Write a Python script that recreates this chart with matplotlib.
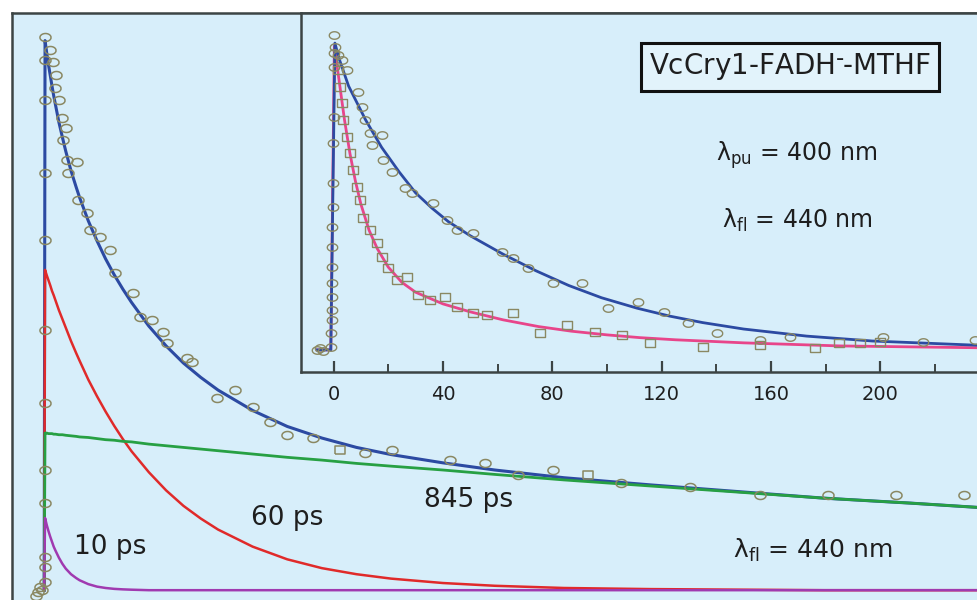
import numpy as np
import matplotlib
matplotlib.use("Agg")
import matplotlib.pyplot as plt

# ---------------- data ----------------
# main panel: time (ps) and normalised fluorescence
main_t = [-0.5, 0, 1, 2, 3, 4, 5, 6, 8, 10, 12, 15, 18, 20, 25, 30, 35, 40, 45, 50,
          60, 70, 80, 90, 100, 120, 140, 160, 180, 200, 230, 260, 300, 350, 400,
          450, 500, 545]
main_fit_total = [0.0, 0.997, 0.974, 0.953, 0.934, 0.915, 0.897, 0.881, 0.849, 0.822,
                  0.796, 0.761, 0.731, 0.712, 0.670, 0.634, 0.601, 0.572, 0.546, 0.522,
                  0.479, 0.443, 0.412, 0.386, 0.363, 0.326, 0.297, 0.276, 0.259, 0.246,
                  0.231, 0.218, 0.204, 0.191, 0.179, 0.167, 0.158, 0.149]
main_fit_60ps = [0.0, 0.581, 0.571, 0.562, 0.553, 0.543, 0.535, 0.526, 0.508, 0.492,
                 0.476, 0.452, 0.430, 0.416, 0.382, 0.352, 0.324, 0.298, 0.274, 0.252,
                 0.214, 0.181, 0.153, 0.130, 0.110, 0.079, 0.056, 0.040, 0.029, 0.021,
                 0.013, 0.008, 0.004, 0.002, 0.001, 0.0, 0.0, 0.0]
main_fit_845ps = [0.0, 0.285, 0.285, 0.284, 0.284, 0.284, 0.283, 0.283, 0.282, 0.282,
                  0.281, 0.280, 0.279, 0.278, 0.277, 0.275, 0.273, 0.272, 0.270, 0.269,
                  0.265, 0.262, 0.259, 0.256, 0.253, 0.247, 0.241, 0.236, 0.230, 0.225,
                  0.218, 0.210, 0.200, 0.189, 0.178, 0.167, 0.158, 0.149]
main_fit_10ps = [0.0, 0.131, 0.118, 0.107, 0.097, 0.088, 0.079, 0.072, 0.059, 0.048,
                 0.039, 0.029, 0.022, 0.018, 0.011, 0.0065, 0.004, 0.0024, 0.0015, 0.0009,
                 0.0, 0.0, 0.0, 0.0, 0.0, 0.0, 0.0, 0.0, 0.0, 0.0,
                 0.0, 0.0, 0.0, 0.0, 0.0, 0.0, 0.0, 0.0]

main_circ_t = [-5, -4, -3, -2, 0, 0, 0, 0, 0, 0, 0, 0, 0, 0, 0, 0,
               2.9, 4.6, 6.4, 5.8, 8.1, 9.8, 12.1, 10.4, 12.7, 18.5, 13.3, 19.1, 24.3,
               26.0, 31.8, 37.6, 40.5, 50.9, 54.9, 61.8, 68.2, 70.5, 82.1, 85.0, 99.4,
               109.8, 120.2, 130.1, 139.9, 154.9, 185.0, 200.6, 234.1, 254.3, 273.4,
               293.6, 333.0, 372.8, 413.3, 452.6, 491.9, 531.2]
main_circ_v = [-0.011, -0.004, 0.005, 0.0, 1.004, 0.962, 0.889, 0.757, 0.635, 0.472,
               0.339, 0.218, 0.158, 0.060, 0.042, 0.015,
               0.980, 0.958, 0.935, 0.911, 0.889, 0.857, 0.838, 0.817, 0.780, 0.777,
               0.757, 0.708, 0.684, 0.653, 0.641, 0.617, 0.575, 0.539, 0.495, 0.490,
               0.468, 0.448, 0.421, 0.414, 0.348, 0.363, 0.332, 0.305, 0.281, 0.276,
               0.249, 0.254, 0.236, 0.230, 0.209, 0.218, 0.194, 0.187, 0.172, 0.172,
               0.172, 0.172]
main_sq_t = [170.5, 313.9]
main_sq_v = [0.254, 0.209]

# inset panel
ins_blue_t = [-6, -1, 0.5, 2, 5.5, 11.7, 17.6, 24, 30, 36, 42, 50, 62, 74, 86, 98,
              111, 123, 135, 150, 173, 197, 236]
ins_blue_v = [0.0, 0.0, 1.0, 0.95, 0.86, 0.75, 0.66, 0.58, 0.512, 0.462, 0.418, 0.372,
              0.312, 0.258, 0.210, 0.170, 0.136, 0.110, 0.089, 0.068, 0.045, 0.029, 0.015]
ins_pink_t = [-6, -1, 0.3, 2, 4, 6, 8, 10, 13, 16, 20, 25, 30, 40, 50, 62, 75, 87,
              100, 112, 125, 150, 185, 236]
ins_pink_v = [0.0, 0.0, 0.99, 0.88, 0.75, 0.64, 0.55, 0.475, 0.39, 0.33, 0.27, 0.22,
              0.188, 0.150, 0.124, 0.098, 0.076, 0.061, 0.049, 0.040, 0.033, 0.023,
              0.013, 0.007]

ins_circ_t = [-6.0, -4.9, -3.8,
              -0.8, -0.8, -0.7, -0.7, -0.6, -0.6, -0.5, -0.5, -0.4, -0.3, -0.2, -0.1,
              0.0, 0.1, 0.2, 0.3,
              0.5, 1.6, 3.1, 4.9, 9.0, 10.4, 11.5, 13.3, 17.7, 14.1, 18.1, 21.4, 26.1,
              28.7, 36.4, 41.5, 45.2, 51.0, 61.6, 65.6, 71.1, 80.3, 90.9, 100.4, 111.2,
              120.7, 129.6, 140.2, 156.0, 167.0, 201.0, 215.5, 234.5]
ins_circ_v = [0.0, 0.007, -0.003,
              0.010, 0.055, 0.098, 0.130, 0.173, 0.218, 0.270, 0.336, 0.401, 0.466,
              0.544, 0.674, 0.759, 0.922, 0.967, 1.026,
              0.987, 0.960, 0.945, 0.912, 0.840, 0.792, 0.749, 0.707, 0.700, 0.668,
              0.619, 0.580, 0.528, 0.511, 0.479, 0.423, 0.391, 0.381, 0.319, 0.300,
              0.267, 0.218, 0.218, 0.137, 0.156, 0.124, 0.088, 0.055, 0.033, 0.042,
              0.042, 0.026, 0.033]
ins_sq_t = [1.6, 2.4, 3.1, 3.5, 4.9, 6.0, 7.1, 8.6, 9.7, 10.8, 13.3, 15.9, 17.7, 19.9,
            23.2, 26.9, 30.9, 35.3, 40.8, 45.2, 51.0, 56.1, 65.6, 75.5, 85.4, 95.6,
            105.5, 115.7, 135.1, 156.0, 176.0, 185.0, 192.5, 200.0]
ins_sq_v = [0.912, 0.857, 0.805, 0.749, 0.694, 0.642, 0.586, 0.531, 0.489, 0.430,
            0.391, 0.349, 0.303, 0.267, 0.228, 0.238, 0.179, 0.163, 0.173, 0.140,
            0.121, 0.114, 0.121, 0.055, 0.081, 0.059, 0.049, 0.023, 0.010, 0.016,
            0.007, 0.023, 0.023, 0.026]

ins_major_ticks = [0, 40, 80, 120, 160, 200]
ins_minor_ticks = [20, 60, 100, 140, 180, 220]

# ---------------- style ----------------
BG = "#d7eefa"
SPINE = "#3c4444"
MK = "#8a8862"
C_BLUE = "#2c4aa2"
C_RED = "#e02a2a"
C_GREEN = "#27a043"
C_PURPLE = "#a03ab0"
C_PINK = "#e8458a"
TXT = "#1e1e1e"

plt.rcParams["font.family"] = ["DejaVu Sans"]
plt.rcParams["mathtext.fontset"] = "dejavusans"

W, H = 977, 600
fig = plt.figure(figsize=(W / 100, H / 100), dpi=100)
fig.patch.set_facecolor("white")


def rect(x0, y0, x1, y1):
    return [x0 / W, 1 - y1 / H, (x1 - x0) / W, (y1 - y0) / H]


# elliptical open markers (picture is stretched horizontally)
th = np.linspace(0, 2 * np.pi, 41)
ell = list(zip(np.cos(th), 0.72 * np.sin(th)))
sq = [(-1, -0.8), (1, -0.8), (1, 0.8), (-1, 0.8), (-1, -0.8)]

# ---------------- main axes ----------------
ax = fig.add_axes(rect(12, 13, 995, 615))
ax.set_facecolor(BG)
ax.set_xlim(-19.1, 549.1)
ax.set_ylim(-0.045, 1.047)
ax.set_xticks([])
ax.set_yticks([])
for s in ["right", "bottom"]:
    ax.spines[s].set_visible(False)
for s in ["left", "top"]:
    ax.spines[s].set_color(SPINE)
    ax.spines[s].set_linewidth(1.8)

ax.plot(main_t, main_fit_total, color=C_BLUE, lw=2.2, zorder=2)
ax.plot(main_t, main_fit_60ps, color=C_RED, lw=1.8, zorder=3)
ax.plot(main_t, main_fit_845ps, color=C_GREEN, lw=2.0, zorder=4)
ax.plot(main_t, main_fit_10ps, color=C_PURPLE, lw=1.8, zorder=5)
ax.plot(main_circ_t, main_circ_v, ls="none", marker=ell, ms=8, mfc="none",
        mec=MK, mew=1.1, zorder=6)
ax.plot(main_sq_t, main_sq_v, ls="none", marker=sq, ms=7, mfc="none",
        mec=MK, mew=1.1, zorder=6)

# ---------------- inset ----------------
ins = fig.add_axes(rect(301, 13, 995, 372))
ins.set_facecolor(BG)
ins.set_xlim(-11.9, 241.9)
ins.set_ylim(-0.072, 1.098)
ins.set_yticks([])
ins.spines["right"].set_visible(False)
for s in ["left", "bottom", "top"]:
    ins.spines[s].set_color(SPINE)
    ins.spines[s].set_linewidth(1.8)
ins.set_xticks(ins_major_ticks)
ins.set_xticklabels([str(v) for v in ins_major_ticks])
ins.set_xticks(ins_minor_ticks, minor=True)
ins.tick_params(axis="x", which="major", direction="in", length=8, width=1.6,
                color=SPINE, pad=9, labelsize=14, labelcolor=TXT)
ins.tick_params(axis="x", which="minor", direction="in", length=5.5, width=1.4,
                color=SPINE)

ins.plot(ins_blue_t, ins_blue_v, color=C_BLUE, lw=2.0, zorder=3)
ins.plot(ins_pink_t, ins_pink_v, color=C_PINK, lw=2.0, zorder=2)
ins.plot(ins_circ_t, ins_circ_v, ls="none", marker=ell, ms=7.5, mfc="none",
         mec=MK, mew=1.0, zorder=5)
ins.plot(ins_sq_t, ins_sq_v, ls="none", marker=sq, ms=6.5, mfc="none",
         mec=MK, mew=1.0, zorder=5)

# ---------------- texts ----------------
def ftext(x, y, s, size, **kw):
    fig.text(x / W, 1 - y / H, s, fontsize=size, color=TXT, ha="center",
             va="center", **kw)


ftext(790, 67, r"VcCry1-FADH$^{\mathbf{\bar{\ }}}$-MTHF", 20,
      bbox=dict(boxstyle="square,pad=0.3", fc="#e2f3fb", ec="#111111", lw=2.2))
ftext(797, 155, r"$\mathrm{\lambda}_{\mathrm{pu}}$ = 400 nm", 17)
ftext(797, 220, r"$\mathrm{\lambda}_{\mathrm{fl}}$ = 440 nm", 17)
ftext(110, 547, "10 ps", 19)
ftext(287, 518, "60 ps", 19)
ftext(469, 500, "845 ps", 19)
ftext(813, 550, r"$\mathrm{\lambda}_{\mathrm{fl}}$ = 440 nm", 18)

fig.savefig("out.png", dpi=100, facecolor=fig.get_facecolor())
